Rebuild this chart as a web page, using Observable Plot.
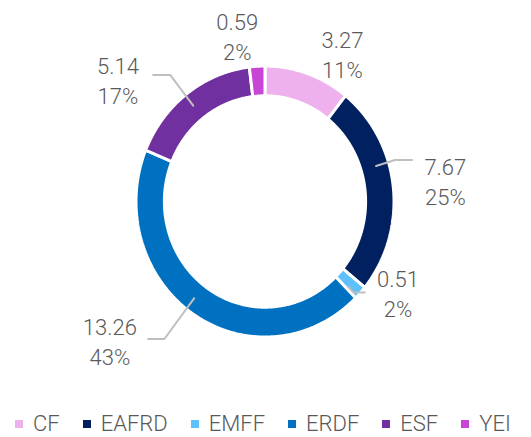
<!DOCTYPE html>
<html><head><meta charset="utf-8">
<script src="https://cdn.jsdelivr.net/npm/d3@7"></script>
<script src="https://cdn.jsdelivr.net/npm/@observablehq/plot@0.6"></script>
<style>
body{margin:0;background:#fff;font-family:Roboto,sans-serif;}
#chart{width:531px;}
#chart svg.plotsvg{display:block;}
.lg-swatches{font-family:Roboto,sans-serif !important;font-size:22px !important;font-weight:300;color:#595959 !important;margin:0 0 0 15px !important;min-height:27px !important;height:27px;flex-wrap:nowrap !important;white-space:nowrap;line-height:27px;}
.lg-swatch{margin-right:23px !important;}
.lg-swatch > svg{margin-right:10px !important;}
</style></head><body><div id="chart"></div>
<script>
// ---- data ----
const categories = ["CF", "EAFRD", "EMFF", "ERDF", "ESF", "YEI"];
const values = [3.27, 7.67, 0.51, 13.26, 5.14, 0.59];
const percentLabels = ["11%", "25%", "2%", "43%", "17%", "2%"];
const colors = ["#efb0ee", "#00205f", "#60c0fb", "#0070c0", "#7030a0", "#c845d6"];

// ---- label layout (normalized ring coordinates, ring outer radius = 1) ----
const labelPos = [[0.60, 1.093], [1.398, 0.157], [1.031, -0.672], [-1.203, -1.022], [-1.14, 0.903], [-0.215, 1.228]];
const leaderElbow = [null, [1.008, 0.306], [0.6875, -0.672], [-0.78, -1.015], [-0.734, 0.933], null];
const leaderEnd = [null, [1.14, 0.306], [0.773, -0.672], [-0.906, -1.015], [-0.867, 0.933], null];
const innerRatio = 0.78;

// ---- derived geometry ----
const arcs = d3.pie().sort(null).value(d => d)(values);
const arcPts = [];
arcs.forEach((a, i) => {
  const cat = categories[i];
  const n = Math.max(2, Math.ceil((a.endAngle - a.startAngle) / (Math.PI / 360)));
  const outer = [], inner = [];
  for (let k = 0; k <= n; k++) {
    const t = a.startAngle + (a.endAngle - a.startAngle) * k / n;
    outer.push({cat, x: Math.sin(t), y: Math.cos(t)});
    inner.push({cat, x: innerRatio * Math.sin(t), y: innerRatio * Math.cos(t)});
  }
  const ring = outer.concat(inner.reverse());
  ring.push(ring[0]);
  arcPts.push(...ring);
});

const labels = categories.map((c, i) => ({
  cat: c, x: labelPos[i][0], y: labelPos[i][1],
  text: values[i].toFixed(2) + "\n" + percentLabels[i]
}));

const leaderPts = [];
categories.forEach((c, i) => {
  if (!leaderElbow[i]) return;
  const a = arcs[i];
  let ang = Math.atan2(leaderElbow[i][0], leaderElbow[i][1]);
  if (ang < 0) ang += 2 * Math.PI;
  ang = Math.min(Math.max(ang, a.startAngle + 0.01), a.endAngle - 0.01);
  const r0 = 0.9;
  leaderPts.push({cat: c, x: r0 * Math.sin(ang), y: r0 * Math.cos(ang)});
  leaderPts.push({cat: c, x: leaderElbow[i][0], y: leaderElbow[i][1]});
  leaderPts.push({cat: c, x: leaderEnd[i][0], y: leaderEnd[i][1]});
});

const cx = 264.5, cy = 201, rx = 129, ry = 135.5;

const svg = Plot.plot({
  width: 531,
  height: 410,
  x: {domain: [-1, 1], range: [cx - rx, cx + rx], axis: null},
  y: {domain: [-1, 1], range: [cy + ry, cy - ry], axis: null},
  color: {type: "ordinal", domain: categories, range: colors},
  style: {fontFamily: "Roboto, sans-serif", background: "#fff"},
  marks: [
    Plot.line(arcPts, {x: "x", y: "y", z: "cat", fill: "cat", stroke: "white", strokeWidth: 3, strokeLinejoin: "miter", curve: "linear"}),
    Plot.line(leaderPts, {x: "x", y: "y", z: "cat", stroke: "#bfbfbf", strokeWidth: 2}),
    Plot.text(labels, {x: "x", y: "y", text: "text", fill: "#595959", fontSize: 22, fontWeight: 300, lineHeight: 1.36, textAnchor: "middle", fontFamily: "Roboto, sans-serif"})
  ]
});
svg.classList.add("plotsvg");
document.getElementById("chart").appendChild(svg);

const legend = Plot.legend({
  color: {type: "ordinal", domain: categories, range: colors},
  legend: "swatches",
  swatchSize: 8,
  className: "lg"
});
document.getElementById("chart").appendChild(legend);
</script>
</body></html>
